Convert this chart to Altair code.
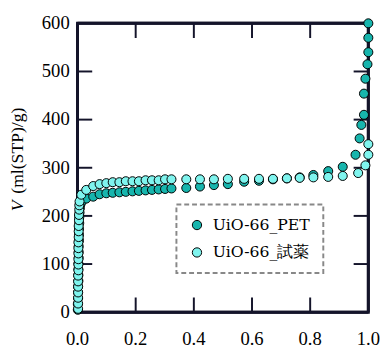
import altair as alt
import pandas as pd

series_names = ["UiO-66_PET", "UiO-66_試薬"]
series_colors = ["#17b5ad", "#7ff4ee"]

pet_x = [0.001, 0.001, 0.002, 0.002, 0.002, 0.003, 0.003, 0.003, 0.003, 0.004,
         0.004, 0.004, 0.005, 0.005, 0.005, 0.006, 0.006, 0.007, 0.008, 0.010,
         0.015, 0.030, 0.054, 0.076, 0.099, 0.121, 0.144, 0.166, 0.189, 0.211,
         0.234, 0.256, 0.279, 0.301, 0.323, 0.374, 0.421, 0.469, 0.517, 0.573,
         0.624, 0.672, 0.720, 0.764, 0.811, 0.862, 0.912, 0.956, 0.970, 0.976,
         0.985, 0.985, 0.990, 0.997, 1.000, 1.000, 1.000]
pet_y = [5, 17, 29, 41, 53, 65, 77, 89, 101, 113,
         125, 137, 149, 161, 173, 185, 197, 207, 216, 224,
         230, 236, 240, 245, 247, 248, 249, 250, 251, 252,
         253, 254, 255, 256, 257, 258, 261, 264, 266, 271,
         273, 276, 278, 280, 285, 293, 302, 327, 361, 389,
         410, 454, 485, 515, 540, 570, 600]

reag_x = [0.002, 0.002, 0.002, 0.002, 0.002, 0.002, 0.002, 0.003, 0.003, 0.003,
          0.003, 0.003, 0.003, 0.004, 0.004, 0.004, 0.005, 0.005, 0.006, 0.006,
          0.007, 0.013, 0.030, 0.054, 0.076, 0.099, 0.121, 0.144, 0.166, 0.189,
          0.211, 0.234, 0.256, 0.279, 0.301, 0.323, 0.374, 0.421, 0.469, 0.517,
          0.573, 0.624, 0.672, 0.720, 0.764, 0.811, 0.862, 0.912, 0.965, 0.990,
          1.000, 1.000]
reag_y = [7, 18, 30, 41, 53, 64, 76, 87, 99, 110,
          122, 133, 145, 156, 168, 179, 191, 202, 213, 222,
          230, 244, 254, 262, 266, 268, 270, 270, 272, 272,
          272, 274, 274, 274, 276, 276, 276, 276, 276, 277,
          277, 277, 277, 278, 279, 280, 281, 283, 289, 305,
          327, 349]

x_ticks = [0.0, 0.2, 0.4, 0.6, 0.8, 1.0]
x_tick_labels = ["0.0", "0.2", "0.4", "0.6", "0.8", "1.0"]
y_ticks = [0, 100, 200, 300, 400, 500, 600]
y_tick_labels = ["0", "100", "200", "300", "400", "500", "600"]
inner_x_ticks = [0.2, 0.4, 0.6, 0.8]
inner_y_ticks = [100, 200, 300, 400, 500]
x_domain = [0, 1]
y_domain = [0, 600]
y_title_var = "V"
y_title_unit = "(ml(STP)/g)"

W, H = 297, 295
TL = 15
FONT = "Liberation Serif"
INK = "#14142a"

pts = pd.DataFrame({
    "x": pet_x + reag_x,
    "y": pet_y + reag_y,
    "series": [series_names[0]] * len(pet_x) + [series_names[1]] * len(reag_x),
})

xscale = alt.Scale(domain=x_domain, nice=False, zero=False)
yscale = alt.Scale(domain=y_domain, nice=False)
xaxis = alt.Axis(values=x_ticks, labels=False, title=None, domain=False, ticks=False, grid=False)
yaxis = alt.Axis(values=y_ticks, labels=False, title=None, domain=False, ticks=False, grid=False)

one = pd.DataFrame({"k": [0]})

f_top = alt.Chart(one).mark_rule(stroke=INK, strokeWidth=3).encode(
    x=alt.value(0), x2=alt.value(W), y=alt.value(0))
f_bot = alt.Chart(one).mark_rule(stroke=INK, strokeWidth=3).encode(
    x=alt.value(0), x2=alt.value(W), y=alt.value(H))
f_left = alt.Chart(one).mark_rule(stroke=INK, strokeWidth=3).encode(
    x=alt.value(0), y=alt.value(0), y2=alt.value(H))
f_right = alt.Chart(one).mark_rule(stroke=INK, strokeWidth=3).encode(
    x=alt.value(W), y=alt.value(0), y2=alt.value(H))

dfx = pd.DataFrame({"t": inner_x_ticks})
dfy = pd.DataFrame({"v": inner_y_ticks})

xt_bottom = alt.Chart(dfx).mark_rule(stroke=INK, strokeWidth=2).encode(
    x=alt.X("t:Q", scale=xscale, axis=xaxis), y=alt.value(H), y2=alt.value(H - TL))
xt_top = alt.Chart(dfx).mark_rule(stroke=INK, strokeWidth=2).encode(
    x=alt.X("t:Q", scale=xscale, axis=xaxis), y=alt.value(0), y2=alt.value(TL))
yt_left = alt.Chart(dfy).mark_rule(stroke=INK, strokeWidth=2).encode(
    y=alt.Y("v:Q", scale=yscale, axis=yaxis), x=alt.value(0), x2=alt.value(TL))
yt_right = alt.Chart(dfy).mark_rule(stroke=INK, strokeWidth=2).encode(
    y=alt.Y("v:Q", scale=yscale, axis=yaxis), x=alt.value(W - TL), x2=alt.value(W))

xl_df = pd.DataFrame({"t": x_ticks, "lab": x_tick_labels})
yl_df = pd.DataFrame({"v": y_ticks, "lab": y_tick_labels})
x_labels = alt.Chart(xl_df).mark_text(font=FONT, fontSize=19, color="black",
                                      align="center", baseline="top").encode(
    x=alt.X("t:Q", scale=xscale, axis=xaxis), y=alt.value(H + 19), text="lab:N")
y_labels = alt.Chart(yl_df).mark_text(font=FONT, fontSize=19, color="black",
                                      align="right", baseline="middle").encode(
    y=alt.Y("v:Q", scale=yscale, axis=yaxis), x=alt.value(-8), text="lab:N")

points = alt.Chart(pts).mark_circle(size=85, stroke="black", strokeWidth=1, opacity=1).encode(
    x=alt.X("x:Q", scale=xscale, axis=xaxis),
    y=alt.Y("y:Q", scale=yscale, axis=yaxis),
    color=alt.Color("series:N", sort=series_names,
                    scale=alt.Scale(domain=series_names, range=series_colors),
                    legend=alt.Legend(title=None, orient="none", legendX=101, legendY=185,
                                      padding=13, fillColor="white",
                                      labelFont="DejaVu Serif", labelFontSize=16,
                                      labelColor="black",
                                      symbolType="circle", symbolSize=90,
                                      symbolStrokeColor="black", symbolStrokeWidth=1,
                                      symbolOpacity=1, rowPadding=12, labelOffset=8)),
)

t_var = alt.Chart(one).mark_text(font=FONT, fontSize=18, fontStyle="italic",
                                 angle=270, align="left", baseline="middle", color="black").encode(
    x=alt.value(-61), y=alt.value(192), text=alt.value(y_title_var))
t_unit = alt.Chart(one).mark_text(font=FONT, fontSize=18,
                                  angle=270, align="left", baseline="middle", color="black").encode(
    x=alt.value(-61), y=alt.value(174), text=alt.value(y_title_unit))

chart = alt.layer(f_top, f_bot, f_left, f_right, xt_bottom, xt_top, yt_left, yt_right,
                  points, x_labels, y_labels, t_var, t_unit).properties(
    width=W, height=H,
    autosize=alt.AutoSizeParams(type="none"),
    padding={"left": 71, "top": 12, "right": 16, "bottom": 37},
).configure(
    font=FONT, background="white",
).configure_view(stroke=INK, strokeWidth=3).configure_legend(
    strokeColor="#888888", strokeDash=[5, 3], strokeWidth=2,
)

chart.save("out.html", embed_options={"renderer": "svg", "actions": False})
